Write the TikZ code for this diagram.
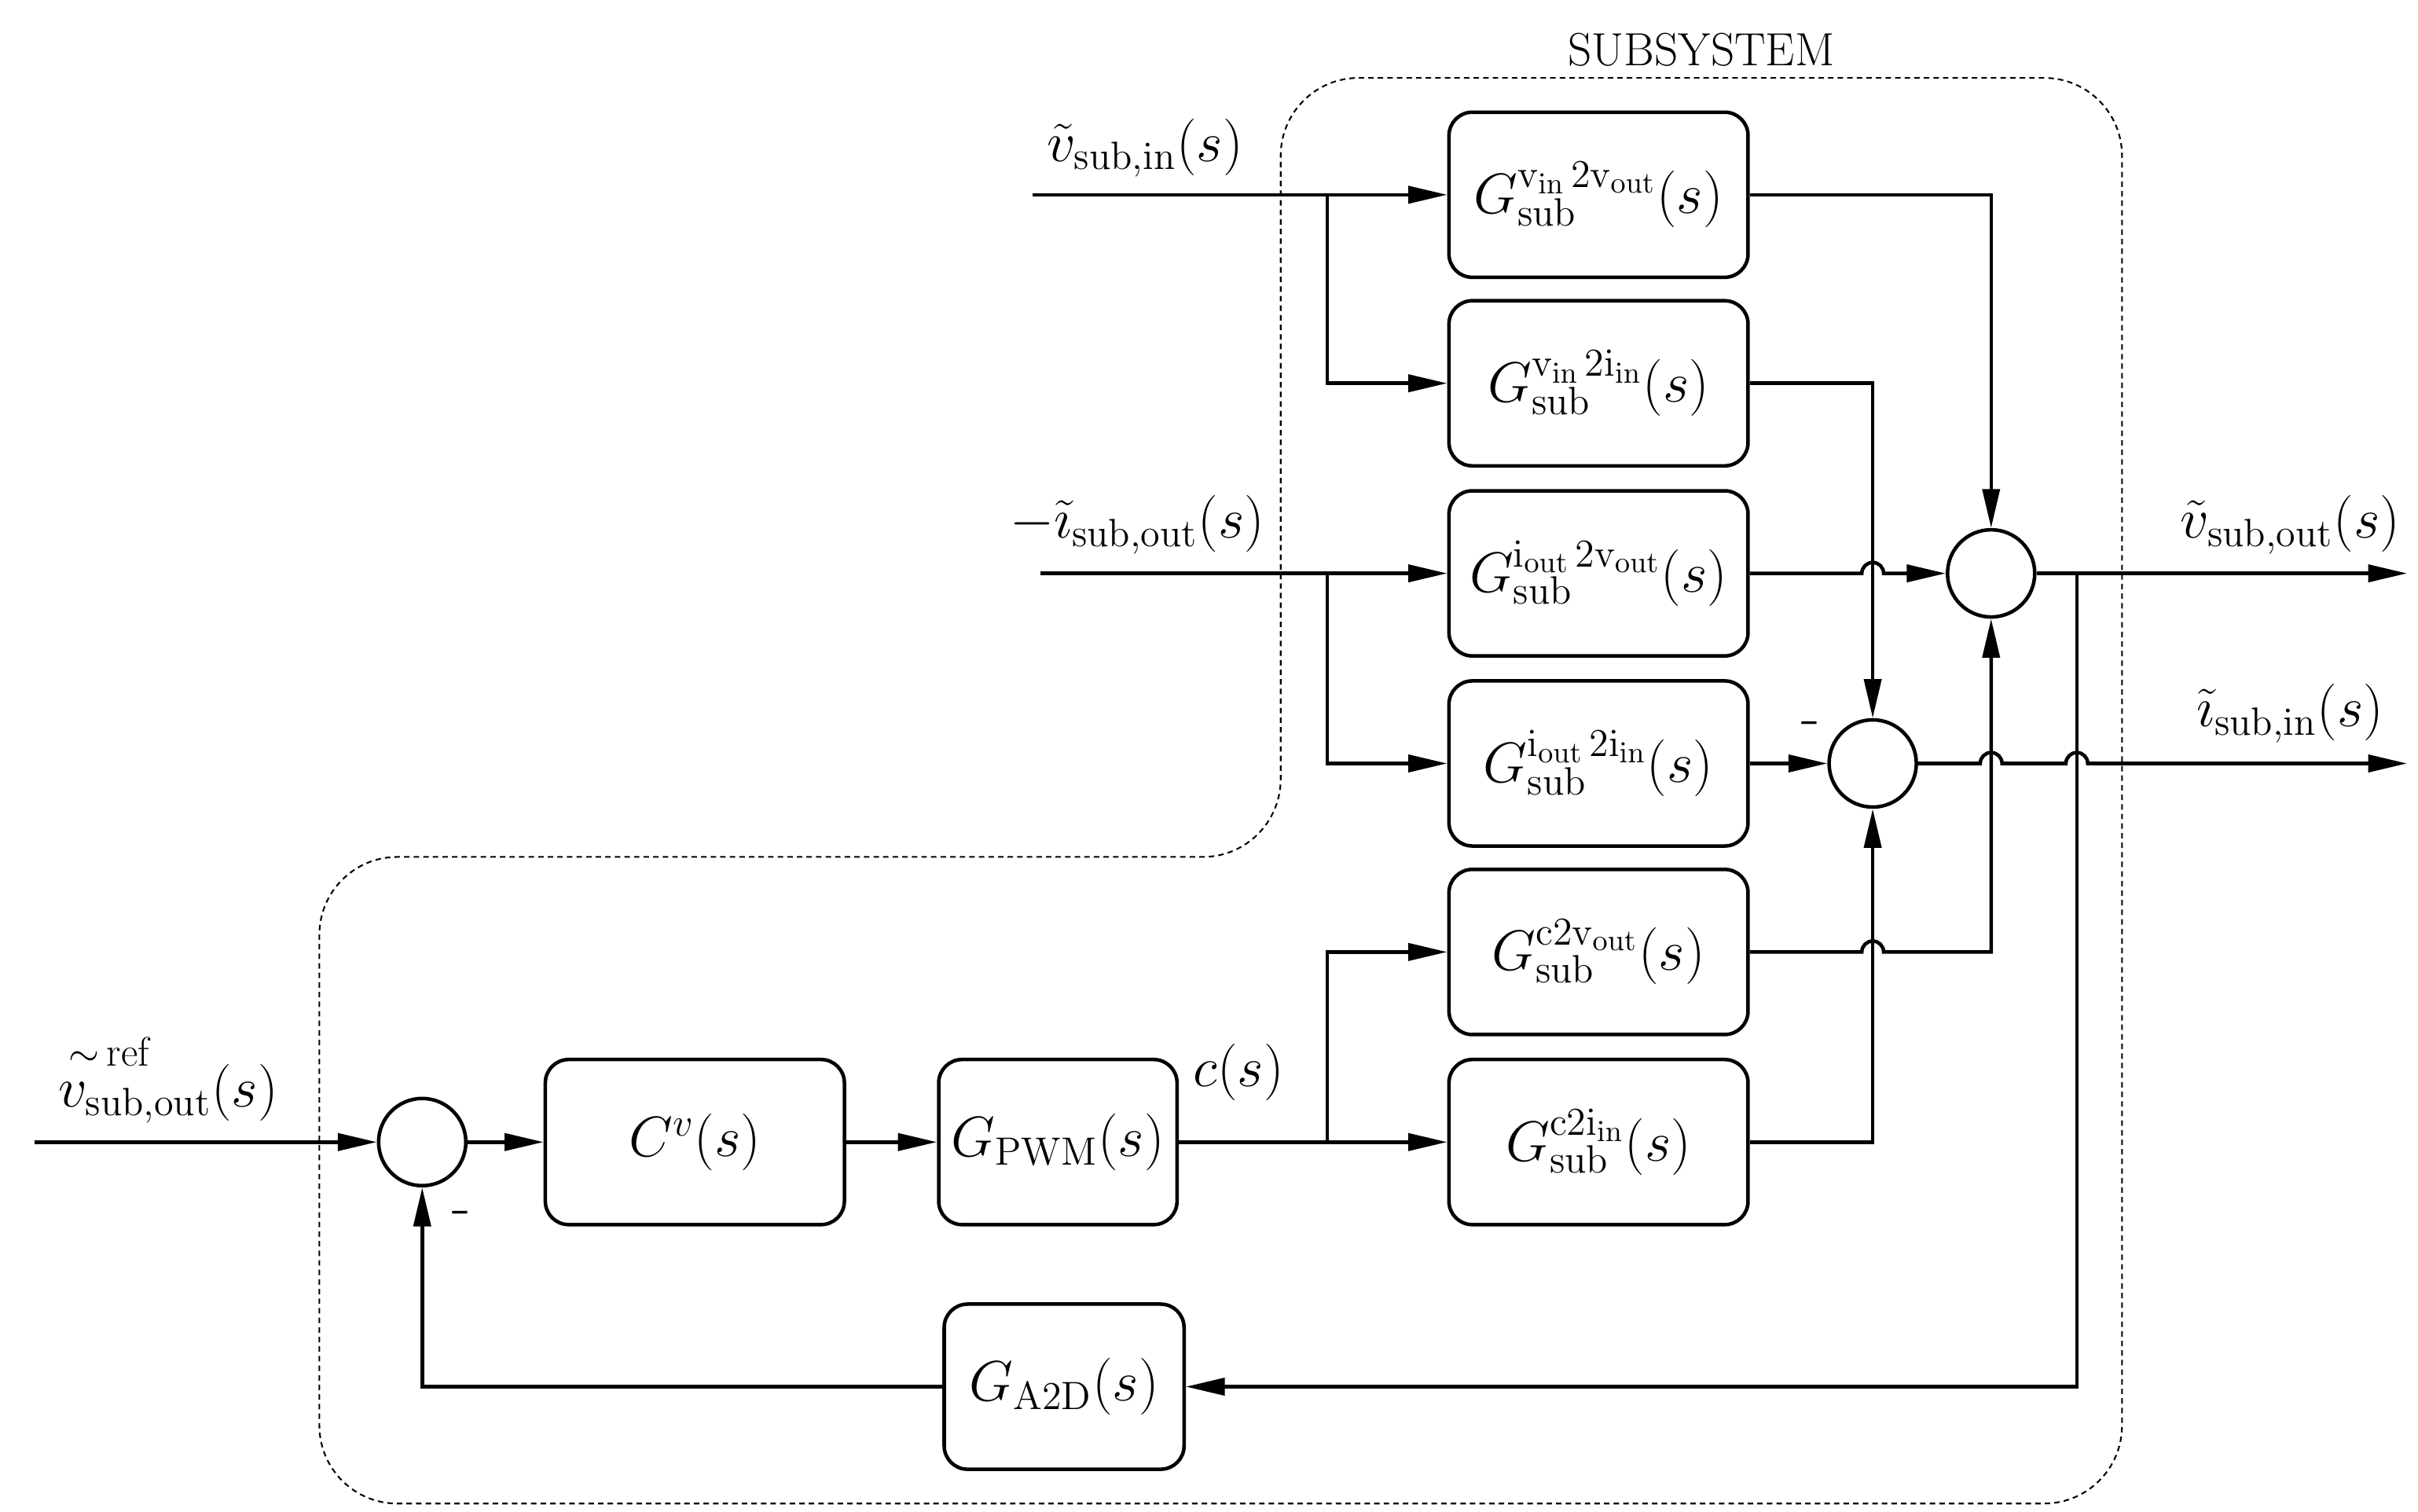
\documentclass[tikz,border=0pt]{standalone}
\usetikzlibrary{arrows.meta,calc}
\begin{document}
\begin{tikzpicture}[x=0.02cm,y=-0.02cm,
  box/.style={draw,line width=1.3pt,rounded corners=0.3cm,minimum width=3.84cm,minimum height=2.12cm,inner sep=0pt,font=\fontsize{22}{26}\selectfont},
  sum/.style={draw,circle,line width=1.3pt,minimum size=1.12cm,inner sep=0pt},
  ln/.style={line width=1.3pt},
  ar/.style={ln,-{Triangle[length=0.5cm,width=0.22cm]}},
  lab/.style={font=\fontsize{22}{26}\selectfont,inner sep=0pt}]
\useasboundingbox (0,0) rectangle (1552,970);
% subsystem boundary
\draw[dashed,line width=0.6pt,dash pattern=on 2pt off 1.5pt,rounded corners=1.0cm]
 (822,50) -- (1362,50) -- (1362,965) -- (205,965) -- (205,550) -- (822,550) -- cycle;
\node[lab,font=\fontsize{17}{20}\selectfont] at (1092,32) {SUBSYSTEM};
% boxes
\node[box] (b1) at (1026,125) {$G_{\mathrm{sub}}^{\mathrm{v_{in}}\,2\mathrm{v_{out}}}(s)$};
\node[box] (b2) at (1026,246) {$G_{\mathrm{sub}}^{\mathrm{v_{in}}\,2\mathrm{i_{in}}}(s)$};
\node[box] (b3) at (1026,368) {$G_{\mathrm{sub}}^{\mathrm{i_{out}}\,2\mathrm{v_{out}}}(s)$};
\node[box] (b4) at (1026,490) {$G_{\mathrm{sub}}^{\mathrm{i_{out}}\,2\mathrm{i_{in}}}(s)$};
\node[box] (b5) at (1026,611) {$G_{\mathrm{sub}}^{\mathrm{c2v_{out}}}(s)$};
\node[box] (b6) at (1026,733) {$G_{\mathrm{sub}}^{\mathrm{c2i_{in}}}(s)$};
\node[box] (cv) at (446,733) {$C^{v}(s)$};
\node[box,minimum width=3.06cm] (pwm) at (679,733) {$G_{\mathrm{PWM}}(s)$};
\node[box,minimum width=3.08cm] (a2d) at (683,890) {$G_{\mathrm{A2D}}(s)$};
\node[sum] (s1) at (1278,368) {};
\node[sum] (s2) at (1202,490) {};
\node[sum] (s0) at (271,733) {};
% inputs
\coordinate (in1) at (663,125);
\coordinate (in2) at (668,368);
\coordinate (in0) at (22,733);
\coordinate (o1) at (1545,368);
\coordinate (o2) at (1545,490);
\node[lab] at (735,95) {$\tilde{v}_{\mathrm{sub,in}}(s)$};
\node[lab] at (730,337) {$-\tilde{\imath}_{\mathrm{sub,out}}(s)$};
\node[lab] at (1470,337) {$\tilde{v}_{\mathrm{sub,out}}(s)$};
\node[lab] at (1470,458) {$\tilde{\imath}_{\mathrm{sub,in}}(s)$};
\node[lab] (vref) at (108,702) {$v_{\mathrm{sub,out}}(s)$};
\node[lab,font=\fontsize{15}{18}\selectfont] at (70,675) {$\sim$\,ref};
\node[lab] at (795,688) {$c(s)$};
\node[lab] at (1162,468) {-};
\node[lab] at (296,782) {-};
\draw[ar] (in1) -- (b1);
\draw[ar] (852,125) |- (b2);
\draw[ar] (in2) -- (b3.west |- in2);
\draw[ar] (852,368) |- (b4);
\draw[ar] (pwm) -- (b6);
\draw[ar] (852,733) |- (b5);
\draw[ar] (in0) -- (s0);
\draw[ar] (s0) -- (cv);
\draw[ar] (cv) -- (pwm);
% to sums
\draw[ar] (b1) -| (s1.north);
\draw[ar] (b2) -| (s2.north);
\draw[ar] (b3) -- (1195,368) arc (180:0:0.14cm) -- (s1.west);
\draw[ar] (b4) -- (s2.west);
\draw[ar] (b5.east) -- (1195,611) arc (180:0:0.14cm) -| (s1.south);
\draw[ar] (b6) -| (s2.south);
% outputs
\draw[ar] (s1) -- (o1);
\draw[ar] (s2) -- (1271,490) arc (180:0:0.14cm) -- (1326,490) arc (180:0:0.14cm) -- (o2);
\draw[ar] (1333,368) |- (a2d);
\draw[ar] (a2d) -| (s0.south);
\end{tikzpicture}
\end{document}
